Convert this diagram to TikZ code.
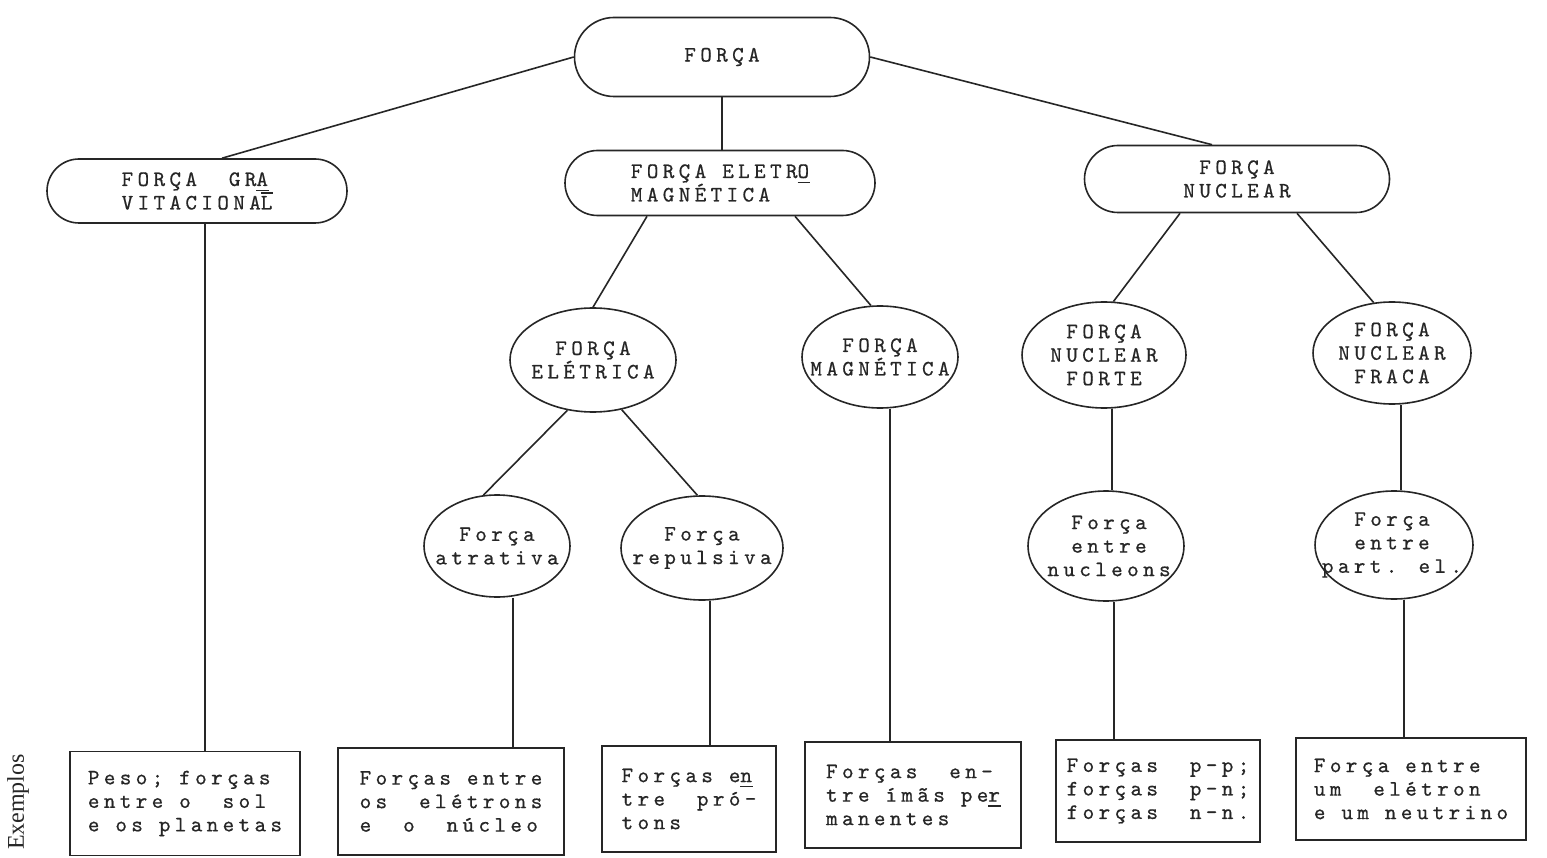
\documentclass[tikz,border=0pt]{standalone}
\usepackage{fontspec}
\usetikzlibrary{shapes.geometric,shapes.misc}
% typewriter face with wide letter spacing
\newfontfamily\twfamily{lmmono10-regular}[Extension=.otf,LetterSpace=20,FakeBold=0.6]
\newfontfamily\exfamily{Liberation Serif}
\newcommand\tw{\fontsize{22}{23.5}\selectfont\twfamily}
% typewriter-style hyphenation marks (bar under / over a letter)
\newcommand\tul[1]{\rlap{\rule[-0.24em]{0.56em}{0.07em}}#1}
\newcommand\tov[1]{\rlap{\rule[0.72em]{0.56em}{0.07em}}#1}
\tikzset{
  ink/.style={draw=black!85, line width=1.6pt},
  stad/.style={ink, rounded rectangle, inner sep=0pt, font=\tw, text=black!85},
  ell/.style={ink, ellipse, inner sep=0pt},
  txt/.style={font=\tw, text=black!85, align=center, inner sep=0pt},
  exbox/.style={ink, rectangle, inner sep=0pt, font=\tw, text=black!85, align=left},
  conn/.style={draw=black!85, line width=1.6pt},
}
\begin{document}
\begin{tikzpicture}[x=1pt,y=-1pt]
\useasboundingbox[fill=white] (0,0) rectangle (1547,858);

% top level
\node[stad, minimum width=295, minimum height=79] (force) at (722,57) {FORÇA};

% second level
\node[stad, minimum width=300, minimum height=64, align=left] (grav) at (197,191)
  {FORÇA~ GR\tul{A}\\VITACIONA\tov{L}};
\node[stad, minimum width=310, minimum height=65, align=left] (em) at (720,183)
  {FORÇA ELETR\tul{O}\\MAGNÉTICA};
\node[stad, minimum width=305, minimum height=67, align=center] (nuc) at (1237,179)
  {FORÇA\\NUCLEAR};

% third level
\node[ell, minimum width=166, minimum height=104] (ele) at (593,360) {};
\node[txt] (ele-t) at (ele) {FORÇA\\ELÉTRICA};
\node[ell, minimum width=156, minimum height=102] (mag) at (880,357) {};
\node[txt] (mag-t) at (mag) {FORÇA\\MAGNÉTICA};
\node[ell, minimum width=164, minimum height=106] (forte) at (1104,355) {};
\node[txt] (forte-t) at (forte) {FORÇA\\NUCLEAR\\FORTE};
\node[ell, minimum width=158, minimum height=102] (fraca) at (1392,353) {};
\node[txt] (fraca-t) at (fraca) {FORÇA\\NUCLEAR\\FRACA};

% fourth level
\node[ell, minimum width=146, minimum height=102] (atr) at (497,546) {};
\node[txt] (atr-t) at (atr) {Força\\atrativa};
\node[ell, minimum width=162, minimum height=104] (rep) at (702,548) {};
\node[txt] (rep-t) at (rep) {Força\\repulsiva};
\node[ell, minimum width=156, minimum height=110] (nucl) at (1106,546) {};
\node[txt] (nucl-t) at ([xshift=3pt]nucl.center) {Força\\entre\\nucleons};
\node[ell, minimum width=158, minimum height=108] (part) at (1394,545) {};
\node[txt] (part-t) at ([xshift=-2pt]part.center) {Força\\entre\\part. el.};

% examples
\node[exbox, minimum width=230, minimum height=104] (b1) at (185,803.5)
  {Peso; forças\\entre o~ sol\\e os planetas};
\node[exbox, minimum width=226, minimum height=107] (b2) at (451,801.5)
  {Forças entre\\os~ elétrons\\e~ o~ núcleo};
\node[exbox, minimum width=174, minimum height=106] (b3) at (689,799)
  {Forças e\tul{n}\\tre~ pró-\\tons};
\node[exbox, minimum width=216, minimum height=106] (b4) at (913,795)
  {Forças~ en-\\tre ímãs pe\tul{r}\\manentes};
\node[exbox, minimum width=204, minimum height=102] (b5) at (1158,791)
  {Forças~ p-p;\\forças~ p-n;\\forças~ n-n.};
\node[exbox, minimum width=230, minimum height=102] (b6) at (1411,789)
  {Força entre\\um~ elétron\\e um neutrino};

\node[rotate=90, font=\exfamily\fontsize{24}{28}\selectfont, text=black!85] (ex) at (18,802) {Exemplos};

% connectors
\draw[conn] (force.west) -- ([xshift=25pt]grav.north);
\draw[conn] (force.south) -- (force.south |- em.north);
\draw[conn] (force.east) -- ([xshift=-25pt]nuc.north);

\draw[conn] ([xshift=8pt]grav.south) -- ([xshift=8pt]grav.south |- b1.north);

\draw[conn] ([xshift=-73pt]em.south) -- (ele.north);
\draw[conn] ([xshift=75pt]em.south) -- (mag.100);
\draw[conn] ([xshift=-57pt]nuc.south) -- (forte.80);
\draw[conn] ([xshift=60pt]nuc.south) -- (fraca.110);

\draw[conn] (ele.243) -- (atr.105);
\draw[conn] (ele.300) -- (rep.95);
\draw[conn] ([xshift=10pt]mag.south) -- ([xshift=10pt]mag.south |- b4.north);

\draw[conn] ([xshift=16pt]atr.south) -- ([xshift=16pt]atr.south |- b2.north);
\draw[conn] ([xshift=8pt]rep.south) -- ([xshift=8pt]rep.south |- b3.north);

\draw[conn] ([xshift=8pt]forte.south) -- ([xshift=8pt]forte.south |- nucl.north);
\draw[conn] ([xshift=8pt]nucl.south) -- ([xshift=8pt]nucl.south |- b5.north);
\draw[conn] ([xshift=9pt]fraca.south) -- ([xshift=9pt]fraca.south |- part.north);
\draw[conn] ([xshift=10pt]part.south) -- ([xshift=10pt]part.south |- b6.north);
\end{tikzpicture}
\end{document}
